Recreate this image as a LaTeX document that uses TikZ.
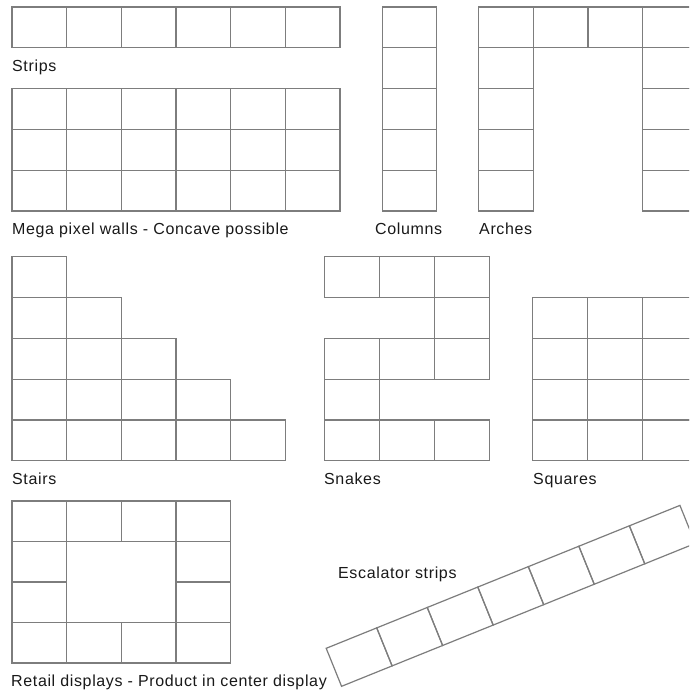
\documentclass[tikz,border=0pt]{standalone}
\usepackage{fontspec}
\setmainfont{Liberation Sans}[LetterSpace=4.0]
\definecolor{linegray}{RGB}{125,125,125}
\definecolor{textcol}{RGB}{25,25,25}
\tikzset{
  gridline/.style={draw=linegray, line width=1.2pt},
  lbl/.style={anchor=base west, inner sep=0pt, text=textcol, font=\fontsize{16}{19}\selectfont}
}
\newcommand{\mycell}[4]{\draw[gridline] ({#1},{#2}) rectangle ({#3},{#4});}
\begin{document}
\begin{tikzpicture}[x=1pt,y=-1pt]
\useasboundingbox (0,0) rectangle (689,691);
\fill[white] (0,0) rectangle (689,691);
\begin{scope}
\clip (0,0) rectangle (689,691);
% Strips
\foreach \i in {0,...,5}{\mycell{12+54.67*\i}{7}{12+54.67*(\i+1)}{47.8}}
% Mega pixel walls
\foreach \i in {0,...,5}{\foreach \j in {0,1,2}{\mycell{12+54.67*\i}{88.6+40.8*\j}{12+54.67*(\i+1)}{88.6+40.8*(\j+1)}}}
% Columns
\foreach \j in {0,...,4}{\mycell{382.3}{7+40.8*\j}{436.7}{7+40.8*(\j+1)}}
% Arches
\foreach \i in {0,...,3}{\mycell{478.7+54.67*\i}{7}{478.7+54.67*(\i+1)}{47.8}}
\foreach \j in {1,...,4}{\mycell{478.7}{7+40.8*\j}{533.4}{7+40.8*(\j+1)}
  \mycell{642.7}{7+40.8*\j}{697.4}{7+40.8*(\j+1)}}
% Stairs
\foreach \r in {0,...,4}{\foreach \i in {0,...,\r}{\mycell{12+54.67*\i}{256.7+40.8*\r}{12+54.67*(\i+1)}{256.7+40.8*(\r+1)}}}
% Snakes
\foreach \r in {0,2,4}{\foreach \i in {0,1,2}{\mycell{324.3+55*\i}{256.7+40.8*\r}{324.3+55*(\i+1)}{256.7+40.8*(\r+1)}}}
\mycell{434.3}{297.5}{489.3}{338.3}
\mycell{324.3}{379.1}{379.3}{419.9}
% Squares
\foreach \r in {1,...,4}{\foreach \i in {0,1,2}{\mycell{532.7+55*\i}{256.7+40.8*\r}{532.7+55*(\i+1)}{256.7+40.8*(\r+1)}}}
% Retail displays
\foreach \i in {0,...,3}{\mycell{12+54.67*\i}{501}{12+54.67*(\i+1)}{541.5}
  \mycell{12+54.67*\i}{622.5}{12+54.67*(\i+1)}{663}}
\foreach \j in {1,2}{\mycell{12}{501+40.5*\j}{66.67}{501+40.5*(\j+1)}
  \mycell{176}{501+40.5*\j}{230.67}{501+40.5*(\j+1)}}
% Escalator strips
\begin{scope}[shift={(326.2,648.3)}, rotate=22]
\foreach \i in {0,...,6}{\mycell{54.5*\i}{0}{54.5*(\i+1)}{41}}
\end{scope}
\end{scope}
% Labels
\node[lbl] (lstrips) at (12,71.5) {Strips};
\node[lbl] (lmega) at (12,234) {Mega pixel walls - Concave possible};
\node[lbl] (lcol) at (375,234) {Columns};
\node[lbl] (larch) at (479,234) {Arches};
\node[lbl] (lstairs) at (12,484) {Stairs};
\node[lbl] (lsnakes) at (324,484) {Snakes};
\node[lbl] (lsquares) at (533,484) {Squares};
\node[lbl] (lesc) at (338,578) {Escalator strips};
\node[lbl] (lretail) at (11,686) {Retail displays - Product in center display};
\end{tikzpicture}
\end{document}
